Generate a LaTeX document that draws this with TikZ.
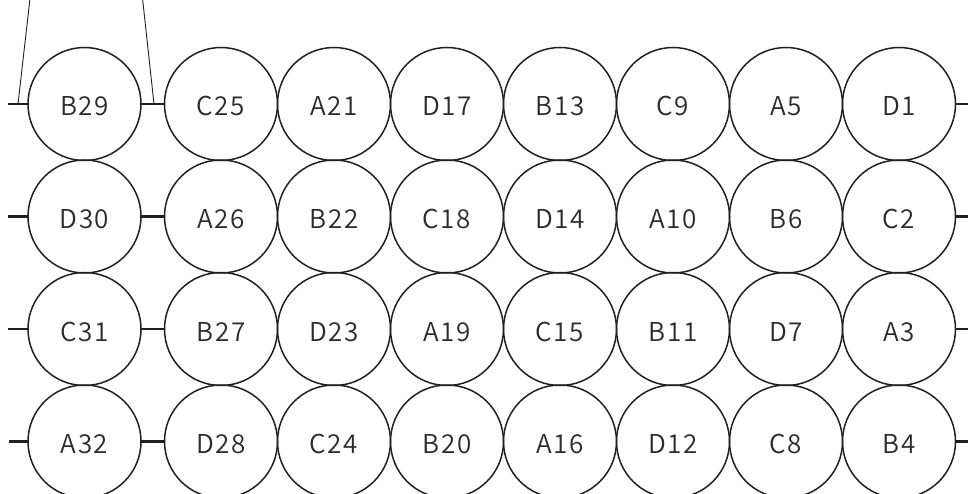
\documentclass[tikz,border=0pt]{standalone}
\usepackage{fontspec}
\setmainfont[LetterSpace=6]{Noto Sans CJK JP DemiLight}
\usepackage{xcolor}
\usepackage{tikz}
\usetikzlibrary{positioning}
\definecolor{inkblack}{HTML}{231F20}
\definecolor{inkgray}{HTML}{2B2B2B}

\begin{document}
\begin{tikzpicture}[
    x=1pt, y=-1pt,
    well/.style={circle, draw=inkblack, line width=1.5pt, minimum size=113pt,
                 inner sep=0pt, outer sep=0pt, text=inkgray,
                 text height=24pt, text depth=0pt,
                 font=\fontsize{26}{30}\selectfont},
    tick/.style={draw=inkblack, line width=2.3pt},
    lead/.style={draw=inkblack, line width=0.9pt}
]
\useasboundingbox (0,0) rectangle (968,494);

% row 1
\node[well] (b29) at (84.5,104) {B29};
\node[well, right=23.5pt of b29] (c25) {C25};
\node[well, right=0pt of c25] (a21) {A21};
\node[well, right=0pt of a21] (d17) {D17};
\node[well, right=0pt of d17] (b13) {B13};
\node[well, right=0pt of b13] (c9) {C9};
\node[well, right=0pt of c9] (a5) {A5};
\node[well, right=0pt of a5] (d1) {D1};

% row 2
\node[well, below=-0.5pt of b29] (d30) {D30};
\node[well, right=23.5pt of d30] (a26) {A26};
\node[well, right=0pt of a26] (b22) {B22};
\node[well, right=0pt of b22] (c18) {C18};
\node[well, right=0pt of c18] (d14) {D14};
\node[well, right=0pt of d14] (a10) {A10};
\node[well, right=0pt of a10] (b6) {B6};
\node[well, right=0pt of b6] (c2) {C2};

% row 3
\node[well, below=-0.5pt of d30] (c31) {C31};
\node[well, right=23.5pt of c31] (b27) {B27};
\node[well, right=0pt of b27] (d23) {D23};
\node[well, right=0pt of d23] (a19) {A19};
\node[well, right=0pt of a19] (c15) {C15};
\node[well, right=0pt of c15] (b11) {B11};
\node[well, right=0pt of b11] (d7) {D7};
\node[well, right=0pt of d7] (a3) {A3};

% row 4
\node[well, below=-0.5pt of c31] (a32) {A32};
\node[well, right=23.5pt of a32] (d28) {D28};
\node[well, right=0pt of d28] (c24) {C24};
\node[well, right=0pt of c24] (b20) {B20};
\node[well, right=0pt of b20] (a16) {A16};
\node[well, right=0pt of a16] (d12) {D12};
\node[well, right=0pt of d12] (c8) {C8};
\node[well, right=0pt of c8] (b4) {B4};

% tick ends
\coordinate[left=20pt of b29] (tl1);
\coordinate[left=20pt of d30] (tl2);
\coordinate[left=20pt of c31] (tl3);
\coordinate[left=19pt of a32] (tl4);
\coordinate[right=13pt of d1] (tr1);
\coordinate[right=13pt of c2] (tr2);
\coordinate[right=13pt of a3] (tr3);
\coordinate[right=13pt of b4] (tr4);

\draw[tick] (tl1) -- (b29) (b29) -- (c25) (d1) -- (tr1);
\draw[tick] (tl2) -- (d30) (d30) -- (a26) (c2) -- (tr2);
\draw[tick] (tl3) -- (c31) (c31) -- (b27) (a3) -- (tr3);
\draw[tick] (tl4) -- (a32) (a32) -- (d28) (b4) -- (tr4);

% leaders
\coordinate[left=10pt of b29] (foot1);
\coordinate[right=13pt of b29] (foot2);
\coordinate (top1) at (31.2,-12);
\coordinate (top2) at (141.4,-12);
\draw[lead] (top1) -- (foot1);
\draw[lead] (top2) -- (foot2);
\end{tikzpicture}
\end{document}
